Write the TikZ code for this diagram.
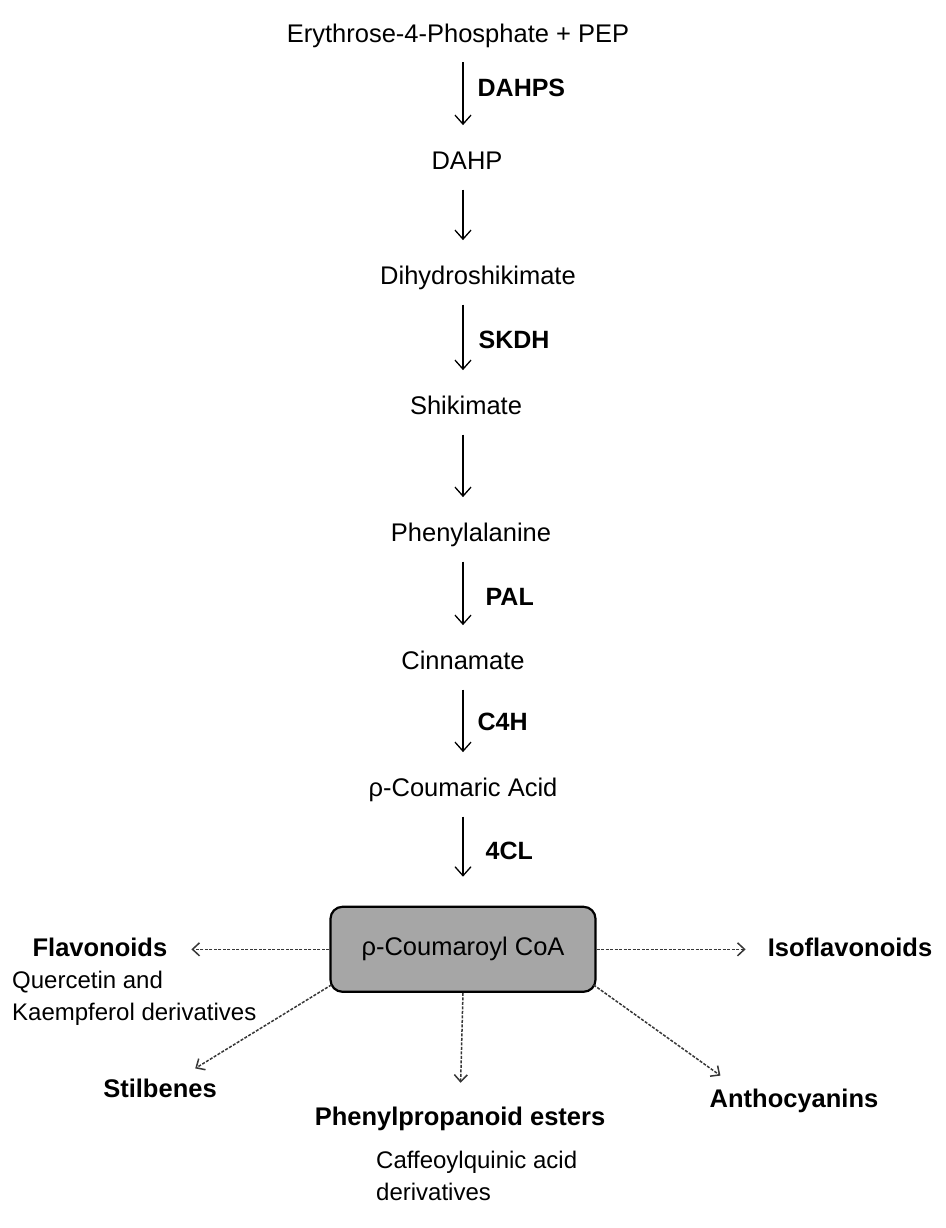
\documentclass[tikz,border=0pt]{standalone}
\usepackage{fontspec}
\setmainfont{Liberation Sans}
\usetikzlibrary{arrows.meta,calc,positioning}
\definecolor{boxgray}{RGB}{166,166,166}
\definecolor{dashgray}{RGB}{55,55,55}

\begin{document}
\begin{tikzpicture}[x=1pt,y=1pt,>={Straight Barb[length=9pt,width=16pt]},
	met/.style={inner sep=0pt,font=\fontsize{25.5}{30}\selectfont,text height=19pt,text depth=5pt},
	enz/.style={inner sep=0pt,font=\fontsize{25}{30}\selectfont\bfseries},
	grp/.style={inner sep=0pt,font=\fontsize{25.5}{30}\selectfont\bfseries,text height=19pt,text depth=5pt},
	sub/.style={inner sep=0pt,align=left,anchor=north west,font=\fontsize{24}{32}\selectfont},
	cbox/.style={draw,line width=2.2pt,rounded corners=12pt,fill=boxgray,minimum width=265pt,minimum height=85pt,font=\fontsize{25.5}{30}\selectfont},
	conv/.style={->,line width=1.3pt,shorten <=15pt,shorten >=25pt},
	side/.style={-{Straight Barb[length=7pt,width=13pt]},dashgray,line width=1.5pt,dash pattern=on 3pt off 1.5pt}]
	\useasboundingbox (0,0) rectangle (945,-1228);
	% main pathway
	\node[met] (e4p) at (458,-35.3) {Erythrose-4-Phosphate + PEP};
	\node[met,on grid,below=127pt of e4p,xshift=9pt] (dahp) {DAHP};
	\node[met,on grid,below=115pt of dahp,xshift=11pt] (dhs) {Dihydroshikimate};
	\node[met,on grid,below=130pt of dhs,xshift=-12pt] (shk) {Shikimate};
	\node[met,on grid,below=127pt of shk,xshift=5pt] (phe) {Phenylalanine};
	\node[met,on grid,below=128pt of phe,xshift=-8pt] (cin) {Cinnamate};
	\node[met,on grid,below=127pt of cin] (coum) {ρ-Coumaric Acid};
	\node[cbox,on grid,below=160pt of coum] (coa) {ρ-Coumaroyl CoA};
	% branches
	\node[grp,left=162pt of coa] (flav) {Flavonoids};
	\node[sub] (querc) at (12,-971) {Quercetin and\\Kaempferol derivatives};
	\node[grp,right=171pt of coa] (iso) {Isoflavonoids};
	\node[grp] (stil) at (160,-1090) {Stilbenes};
	\node[grp] (ppe) at (460,-1118) {Phenylpropanoid esters};
	\node[sub] (caff) at (376,-1151) {Caffeoylquinic acid\\derivatives};
	\node[grp] (anth) at (794,-1100) {Anthocyanins};

	\path[conv]
		(e4p.south -| coa) edge node[enz,right=14pt,pos=.39] {DAHPS} (dahp.north -| coa)
		(dahp.south -| coa) edge (dhs.north -| coa)
		(dhs.south -| coa) edge node[enz,right=15pt,pos=.48] {SKDH} (shk.north -| coa)
		(shk.south -| coa) edge (phe.north -| coa)
		(phe.south -| coa) edge node[enz,right=22pt,pos=.49] {PAL} (cin.north -| coa)
		(cin.south -| coa) edge node[enz,right=14pt,pos=.46] {C4H} (coum.north -| coa)
		(coum.south -| coa) edge[shorten >=29pt] node[enz,right=22pt,pos=.47] {4CL} (coa.north);

	\draw[side,shorten >=24pt] (coa.west) -- (flav.east);
	\draw[side,shorten >=22pt] (coa.east) -- (iso.west);
	\draw[side,shorten >=18pt] ([shift={(2pt,8pt)}]coa.south west) -- (stil);
	\draw[side,shorten >=23pt] (coa.south) -- (ppe.north);
	\draw[side,shorten >=21pt] ([shift={(-3pt,8pt)}]coa.south east) -- ([xshift=28pt]anth.north west);
\end{tikzpicture}
\end{document}
